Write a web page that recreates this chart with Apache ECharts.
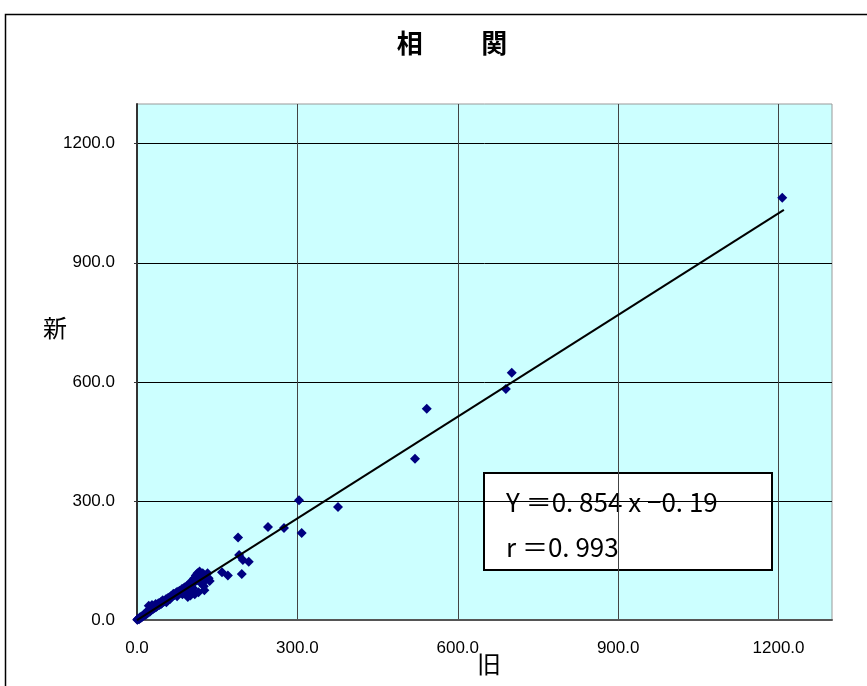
<!DOCTYPE html>
<html>
<head>
<meta charset="utf-8">
<script src="https://cdn.jsdelivr.net/npm/echarts@6/dist/echarts.min.js"></script>
<style>
  html, body { margin: 0; padding: 0; background: #fff; }
  #main { width: 867px; height: 686px; }
</style>
</head>
<body>
<div id="main"></div>
<script>
// 旧 / 新 の値
var oldVals = [0.5, 1, 2, 4, 5, 7, 8, 10, 12, 13, 15, 16, 18, 20, 21, 22, 24, 25, 27, 28,
  30, 31, 33, 35, 36, 38, 40, 42, 44, 45, 47, 48, 50, 52, 54, 55, 57, 58, 60, 62,
  63, 65, 67, 68, 70, 72, 74, 75, 77, 78, 80, 82, 84, 85, 87, 88, 90, 92, 94, 95,
  97, 98, 100, 102, 104, 105, 107, 108, 110, 112, 113, 115, 117, 118, 120, 122, 124, 125, 127, 128,
  130, 132, 134, 136, 123, 126, 115, 108, 100, 95,
  159, 170, 189, 191, 196, 198, 209, 245, 275, 303, 308, 376, 520, 542, 690, 701, 1207];
var newVals = [0.8, 1, 3, 2, 6, 5, 9, 8, 11, 14, 12, 18, 15, 22, 19, 36, 21, 30, 25, 38,
  28, 34, 30, 40, 33, 35, 42, 38, 45, 40, 43, 50, 46, 48, 52, 45, 55, 50, 57, 53,
  60, 58, 62, 66, 63, 67, 70, 60, 72, 68, 74, 70, 78, 65, 80, 76, 83, 78, 86, 72,
  88, 82, 95, 90, 98, 80, 105, 96, 112, 100, 118, 108, 122, 95, 110, 115, 102, 85, 112, 100,
  108, 118, 105, 98, 118, 75, 70, 65, 62, 58,
  120, 112, 208, 164, 116, 151, 147, 234, 232, 302, 219, 285, 406, 532, 582, 623, 1064];
// 回帰直線 Y=0.854x-0.19
var fitLine = [[0, -0.19], [1210, 1033.15]];
var axisTicks = ['0.0', '300.0', '600.0', '900.0', '1200.0'];

var points = [];
for (var i = 0; i < oldVals.length; i++) {
  points.push([oldVals[i], newVals[i]]);
}

var labelFont = '"Liberation Sans"';
var jpFont = '"Noto Sans CJK JP"';

var chart = echarts.init(document.getElementById('main'), null, { renderer: 'canvas' });
var option = {
  animation: false,
  backgroundColor: '#fff',
  title: {
    text: '相　　\u2005関',
    left: 447,
    top: 25,
    textAlign: 'center',
    textStyle: { fontFamily: jpFont, fontSize: 26, fontWeight: 'bold', color: '#000' }
  },
  grid: {
    left: 137, right: 35, top: 104, bottom: 66,
    show: true,
    backgroundColor: '#ccffff',
    borderColor: '#999',
    borderWidth: 1
  },
  xAxis: {
    type: 'value',
    min: 0, max: 1300, interval: 300,
    axisLine: { show: true, lineStyle: { color: '#555', width: 2 } },
    axisTick: { show: false },
    splitLine: { show: true, showMaxLine: false, lineStyle: { color: '#444', width: 1 } },
    axisLabel: {
      margin: 20, showMaxLabel: false,
      fontFamily: labelFont, fontSize: 17, color: '#000',
      formatter: function (v) { return axisTicks[v / 300] || ''; }
    }
  },
  yAxis: {
    type: 'value',
    min: 0, max: 1300, interval: 300,
    axisLine: { show: true, lineStyle: { color: '#333', width: 2 } },
    axisTick: { show: true, length: 3, lineStyle: { color: '#333' } },
    splitLine: { show: true, showMaxLine: false, lineStyle: { color: '#000', width: 1 } },
    axisLabel: {
      margin: 22, showMaxLabel: false,
      fontFamily: labelFont, fontSize: 17, color: '#000',
      formatter: function (v) { return axisTicks[v / 300] || ''; }
    }
  },
  graphic: [
    // 外枠
    { type: 'rect', z: -10, shape: { x: 5.5, y: 14.5, width: 900, height: 700 },
      style: { fill: 'none', stroke: '#000', lineWidth: 1.5 } },
    { type: 'text', left: 43, top: 316,
      style: { text: '新', font: '24px ' + jpFont, fill: '#000' } },
    { type: 'text', left: 477, top: 652,
      style: { text: '旧', font: '24px ' + jpFont, fill: '#000' } },
    { type: 'group', left: 483, top: 472, z: 100, children: [
      { type: 'rect', shape: { x: 0, y: 0, width: 288, height: 97 },
        style: { fill: '#fff', stroke: '#000', lineWidth: 2 } },
      { type: 'text', x: 22, y: 29,
        style: { text: 'Y ＝0. 854 x −0. 19', font: '26px ' + jpFont, fill: '#000', verticalAlign: 'middle' } },
      { type: 'text', x: 22, y: 74,
        style: { text: 'r ＝0. 993', font: '26px ' + jpFont, fill: '#000', verticalAlign: 'middle' } }
    ] }
  ],
  series: [
    {
      type: 'scatter',
      data: points,
      symbol: 'diamond',
      symbolSize: 10,
      itemStyle: { color: '#000080', opacity: 1 },
      z: 3
    },
    {
      type: 'line',
      data: fitLine,
      symbol: 'none',
      lineStyle: { color: '#000', width: 2 },
      z: 4
    }
  ]
};
chart.setOption(option);
</script>
</body>
</html>
